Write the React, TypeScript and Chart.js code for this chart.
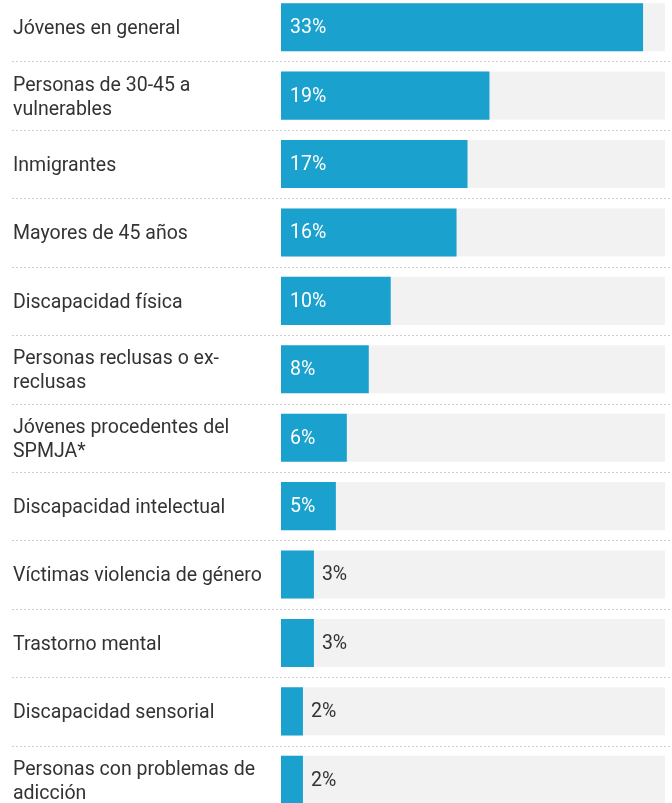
import React, { useEffect, useRef } from 'react';
import { Chart, registerables } from 'chart.js';

Chart.register(...registerables);

const categories: (string | string[])[] = [
  'Jóvenes en general',
  ['Personas de 30-45 a', 'vulnerables'],
  'Inmigrantes',
  'Mayores de 45 años',
  'Discapacidad física',
  ['Personas reclusas o ex-', 'reclusas'],
  ['Jóvenes procedentes del', 'SPMJA*'],
  'Discapacidad intelectual',
  'Víctimas violencia de género',
  'Trastorno mental',
  'Discapacidad sensorial',
  ['Personas con problemas de', 'adicción'],
];

const values = [33, 19, 17, 16, 10, 8, 6, 5, 3, 3, 2, 2];
const valueLabels = ['33%', '19%', '17%', '16%', '10%', '8%', '6%', '5%', '3%', '3%', '2%', '2%'];
const axisMax = 35;
const insideThreshold = 5;

const BLUE = '#1aa1cd';
const TRACK = '#f2f2f2';
const TEXT = '#333333';
const FONT = 'Roboto';
const FONT_SIZE = 19.5;
const LINE_HEIGHT = 24;

const trackPlugin = {
  id: 'track',
  beforeDatasetsDraw(chart: any) {
    const { ctx, chartArea } = chart;
    const meta = chart.getDatasetMeta(0);
    ctx.save();
    ctx.fillStyle = TRACK;
    meta.data.forEach((bar: any) => {
      ctx.fillRect(chartArea.left, bar.y - bar.height / 2, chartArea.right - chartArea.left, bar.height);
    });
    ctx.restore();
  },
};

const categoryLabelPlugin = {
  id: 'categoryLabels',
  afterDraw(chart: any) {
    const { ctx } = chart;
    const yScale = chart.scales.y;
    ctx.save();
    ctx.font = `${FONT_SIZE}px ${FONT}`;
    ctx.fillStyle = TEXT;
    ctx.textAlign = 'left';
    ctx.textBaseline = 'middle';
    categories.forEach((label, i) => {
      const lines = Array.isArray(label) ? label : [label];
      const cy = yScale.getPixelForValue(i);
      const start = cy - ((lines.length - 1) * LINE_HEIGHT) / 2;
      lines.forEach((line, j) => {
        ctx.fillText(line, 13, start + j * LINE_HEIGHT + 2);
      });
    });
    ctx.restore();
  },
};

const separatorPlugin = {
  id: 'separators',
  afterDraw(chart: any) {
    const { ctx } = chart;
    const yScale = chart.scales.y;
    ctx.save();
    ctx.strokeStyle = '#cfcfcf';
    ctx.lineWidth = 1;
    ctx.setLineDash([2, 2]);
    for (let i = 0; i < categories.length - 1; i++) {
      const a = yScale.getPixelForValue(i);
      const b = yScale.getPixelForValue(i + 1);
      const y = Math.round((a + b) / 2) + 0.5;
      ctx.beginPath();
      ctx.moveTo(12, y);
      ctx.lineTo(chart.width, y);
      ctx.stroke();
    }
    ctx.restore();
  },
};

const valueLabelPlugin = {
  id: 'valueLabels',
  afterDatasetsDraw(chart: any) {
    const { ctx } = chart;
    const meta = chart.getDatasetMeta(0);
    ctx.save();
    ctx.font = `${FONT_SIZE}px ${FONT}`;
    ctx.textBaseline = 'middle';
    ctx.textAlign = 'left';
    meta.data.forEach((bar: any, i: number) => {
      const v = values[i];
      if (v >= insideThreshold) {
        ctx.fillStyle = '#ffffff';
        ctx.fillText(valueLabels[i], bar.base + 9, bar.y + 1);
      } else {
        ctx.fillStyle = TEXT;
        ctx.fillText(valueLabels[i], bar.x + 8, bar.y + 1);
      }
    });
    ctx.restore();
  },
};

export default function App() {
  const canvasRef = useRef<HTMLCanvasElement | null>(null);

  useEffect(() => {
    if (!canvasRef.current) return;
    const chart = new Chart(canvasRef.current, {
      type: 'bar',
      data: {
        labels: categories,
        datasets: [
          {
            data: values,
            backgroundColor: BLUE,
            borderWidth: 0,
            barPercentage: 1,
            categoryPercentage: 0.702,
          },
        ],
      },
      options: {
        indexAxis: 'y',
        animation: false,
        responsive: false,
        maintainAspectRatio: false,
        layout: { padding: { left: 281, right: 7, top: 0, bottom: 0 } },
        plugins: {
          legend: { display: false },
          tooltip: { enabled: false },
        },
        scales: {
          x: {
            display: false,
            min: 0,
            max: axisMax,
          },
          y: {
            display: false,
          },
        },
      },
      plugins: [trackPlugin, valueLabelPlugin, separatorPlugin, categoryLabelPlugin],
    } as any);
    return () => chart.destroy();
  }, []);

  return (
    <div style={{ position: 'fixed', left: 0, top: 0, width: 672, height: 803, overflow: 'hidden', background: '#fff' }}>
      <canvas
        ref={canvasRef}
        width={672}
        height={821}
        style={{ position: 'absolute', left: 0, top: -7, width: 672, height: 821 }}
      />
    </div>
  );
}
